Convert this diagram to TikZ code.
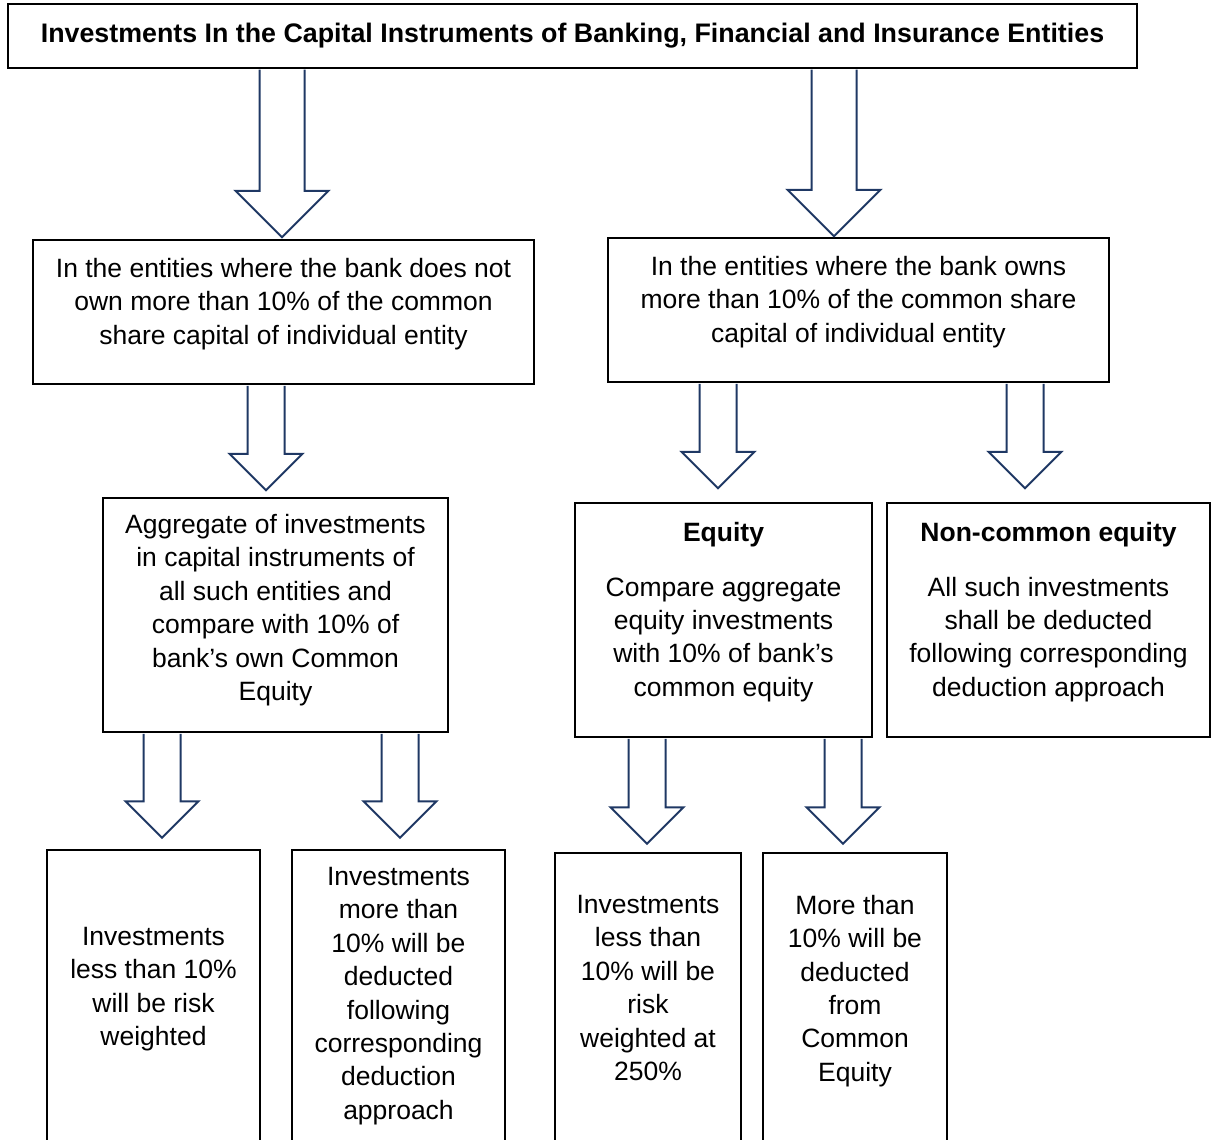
\documentclass[tikz,border=0pt]{standalone}
\usepackage[rgb]{xcolor}
\usepackage{fontspec}
\setmainfont{Liberation Sans}
\usepackage{tikz}
\usetikzlibrary{calc}

\definecolor{arrowblue}{RGB}{31,56,100}

\begin{document}
\begin{tikzpicture}[x=1pt, y=-1pt,
	box/.style={draw=black, line width=1.5pt, align=center, inner sep=0pt,
		font=\fontsize{26.5}{33.4}\selectfont},
	openbox/.style={align=center, inner sep=0pt, font=\fontsize{26.5}{33.4}\selectfont},
	blockarrow/.style={draw=arrowblue, line width=2pt, fill=white, line join=miter}]

	\useasboundingbox (0,0) rectangle (1216,1140);


	% title
	\node[box, minimum width=1129, minimum height=64,
		font=\bfseries\fontsize{26.8}{30}\selectfont] (title) at (572.5,36)
		{Investments In the Capital Instruments of Banking, Financial and Insurance Entities};

	% second row
	\node[box, minimum width=501, minimum height=144] (L1) at (283.5,312)
		{In the entities where the bank does not\\own more than 10\% of the common\\share capital of individual entity\\[-12pt]\mbox{}};
	\node[box, minimum width=501, minimum height=144] (R1) at (858.5,310)
		{In the entities where the bank owns\\more than 10\% of the common share\\capital of individual entity\\[-12pt]\mbox{}};

	% third row
	\node[box, minimum width=345, minimum height=234] (L2) at (275.5,615)
		{Aggregate of investments\\in capital instruments of\\all such entities and\\compare with 10\% of\\bank’s own Common\\Equity\\[-18pt]\mbox{}};
	\node[box, minimum width=297, minimum height=234] (Eq) at (723.5,620)
		{\textbf{Equity}\\[21pt]Compare aggregate\\equity investments\\with 10\% of bank’s\\common equity\\[-12pt]\mbox{}};
	\node[box, minimum width=323, minimum height=234] (NC) at (1048.5,620)
		{\textbf{Non-common equity}\\[21pt]All such investments\\shall be deducted\\following corresponding\\deduction approach\\[-12pt]\mbox{}};

	% bottom row (runs off the page)
	\node[openbox, minimum width=213, minimum height=278] (B1) at (153.5,989)
		{Investments\\less than 10\%\\will be risk\\weighted};
	\node[openbox, minimum width=213, minimum height=292] (B2) at (398.5,996)
		{Investments\\more than\\10\% will be\\deducted\\following\\corresponding\\deduction\\approach};
	\node[openbox, minimum width=186, minimum height=270] (B3) at (648,988)
		{Investments\\less than\\10\% will be\\risk\\weighted at\\250\%};
	\node[openbox, minimum width=184, minimum height=276] (B4) at (855,991)
		{More than\\10\% will be\\deducted\\from\\Common\\Equity};

	\foreach \b in {B1,B2,B3,B4} {
		\draw[line width=1.5pt] ([yshift=-30pt]\b.south west) |- (\b.north east) -- ([yshift=-30pt]\b.south east);
	}

	% block arrows
	\foreach \ax/\src/\dst/\gap/\hs/\hh in {
		282/title/L1/2/22.5/46.5, 834/title/R1/1/22.5/46.5,
		266/L1/L2/7/18.5/36.5, 718/R1/Eq/14/18.5/36.5, 1025/R1/NC/14/18.5/36.5,
		162/L2/B1/12/18.5/36.5, 400/L2/B2/12/18.5/36.5,
		647/Eq/B3/9/18.5/36.5, 843/Eq/B4/9/18.5/36.5} {
		\coordinate (ax) at (\ax,0);
		\draw[blockarrow] let \p1=(\src.south -| ax), \p2=(\dst.north -| ax) in
			(\x1-\hs pt,\y1-1pt) -- (\x1-\hs pt,\y2+\gap pt+\hh pt)
			-- (\x1-\hh pt,\y2+\gap pt+\hh pt) -- (\x1,\y2+\gap pt)
			-- (\x1+\hh pt,\y2+\gap pt+\hh pt) -- (\x1+\hs pt,\y2+\gap pt+\hh pt)
			-- (\x1+\hs pt,\y1-1pt);
	}


\end{tikzpicture}
\end{document}
